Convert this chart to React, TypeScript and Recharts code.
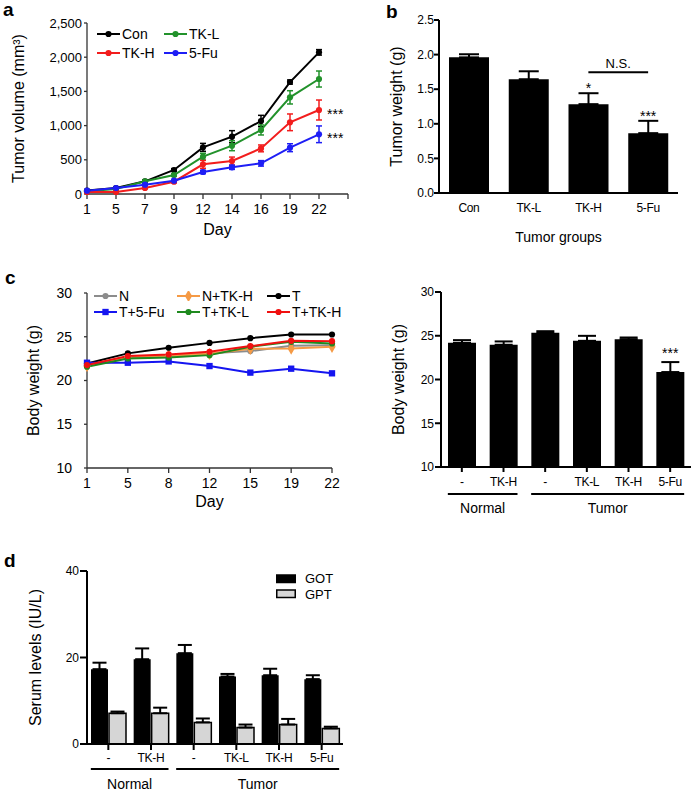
import React from "react";
import {
  LineChart,
  Line,
  BarChart,
  Bar,
  XAxis,
  YAxis,
  ErrorBar,
  Legend,
  ReferenceLine,
  ReferenceDot,
  Symbols,
} from "recharts";

const FONT = '"Liberation Sans", Arial, Helvetica, sans-serif';

// a — tumour volume over time
const volumeDays = ["1", "5", "7", "9", "12", "14", "16", "19", "22"];
const volCon = [50, 88, 185, 351, 682, 838, 1067, 1637, 2071];
const volConErr = [10, 12, 15, 20, 58, 88, 83, 30, 40];
const volTkL = [40, 73, 185, 278, 546, 706, 936, 1413, 1681];
const volTkLErr = [8, 10, 15, 20, 50, 73, 73, 97, 117];
const volTkH = [29, 29, 88, 180, 434, 482, 667, 1048, 1228];
const volTkHErr = [8, 10, 12, 18, 58, 58, 50, 122, 146];
const vol5Fu = [49, 88, 136, 195, 322, 390, 448, 677, 873];
const vol5FuErr = [8, 10, 12, 18, 25, 30, 40, 58, 122];
const volumeTicks = [0, 500, 1000, 1500, 2000, 2500];

// b — tumour weight at end point
const weightGroups = ["Con", "TK-L", "TK-H", "5-Fu"];
const tumorWeight = [1.96, 1.644, 1.284, 0.865];
const tumorWeightErr = [0.045, 0.115, 0.158, 0.178];
const tumorWeightSig = ["", "", "*", "***"];
const tumorWeightTicks = [0, 0.5, 1, 1.5, 2, 2.5];

// c — body weight over time
const bodyDays = ["1", "5", "8", "12", "15", "19", "22"];
const bwN = [21.65, 22.64, 22.79, 23.1, 23.36, 23.97, 24.04];
const bwNTkH = [21.65, 22.7, 22.83, 23.05, 23.62, 23.66, 23.85];
const bwT = [21.95, 23.1, 23.74, 24.3, 24.84, 25.26, 25.26];
const bwT5Fu = [22.03, 22.03, 22.18, 21.65, 20.9, 21.35, 20.82];
const bwTTkL = [21.57, 22.52, 22.64, 22.9, 23.85, 24.42, 24.23];
const bwTTkH = [21.76, 22.8, 22.98, 23.28, 23.93, 24.53, 24.5];
const bodyTicks = [10, 15, 20, 25, 30];

// c (right) — final body weight
const groupIds = ["n", "n-tkh", "t", "t-tkl", "t-tkh", "t-5fu"];
const groupLabels = ["-", "TK-H", "-", "TK-L", "TK-H", "5-Fu"];
const finalWeight = [24.19, 23.97, 25.33, 24.42, 24.61, 20.85];
const finalWeightErr = [0.31, 0.38, 0.19, 0.57, 0.19, 1.14];
const finalWeightSig = ["", "", "", "", "", "***"];

// d — serum GOT / GPT
const serumGOT = [17.3, 19.6, 21.0, 15.6, 15.9, 15.0];
const serumGOTErr = [1.5, 2.5, 1.9, 0.6, 1.5, 0.9];
const serumGPT = [7.1, 7.1, 5.0, 3.8, 4.5, 3.6];
const serumGPTErr = [0.4, 1.3, 0.9, 0.7, 1.3, 0.4];
const serumTicks = [0, 20, 40];

const treatmentGroups = [
  { name: "Normal", from: 0, to: 1 },
  { name: "Tumor", from: 2, to: 5 },
];

type Shape = "circle" | "square" | "diamond";
type SeriesDef = { key: string; name: string; color: string; shape: Shape };

const volumeSeries: SeriesDef[] = [
  { key: "con", name: "Con", color: "#000000", shape: "circle" },
  { key: "tkl", name: "TK-L", color: "#22922b", shape: "circle" },
  { key: "tkh", name: "TK-H", color: "#f21d1d", shape: "circle" },
  { key: "fu", name: "5-Fu", color: "#1e1ef5", shape: "circle" },
];

const bodySeries: SeriesDef[] = [
  { key: "n", name: "N", color: "#8c8c8c", shape: "circle" },
  { key: "ntkh", name: "N+TK-H", color: "#f59a45", shape: "diamond" },
  { key: "t", name: "T", color: "#000000", shape: "circle" },
  { key: "tfu", name: "T+5-Fu", color: "#1515f0", shape: "square" },
  { key: "ttkl", name: "T+TK-L", color: "#1f8a1f", shape: "circle" },
  { key: "ttkh", name: "T+TK-H", color: "#f01010", shape: "circle" },
];

const volumeRows = volumeDays.map((_, i) => ({
  i,
  con: volCon[i],
  conErr: volConErr[i],
  tkl: volTkL[i],
  tklErr: volTkLErr[i],
  tkh: volTkH[i],
  tkhErr: volTkHErr[i],
  fu: vol5Fu[i],
  fuErr: vol5FuErr[i],
}));

const weightRows = weightGroups.map((g, i) => ({
  group: g,
  w: tumorWeight[i],
  err: [0, tumorWeightErr[i]],
}));

const bodyRows = bodyDays.map((_, i) => ({
  i,
  n: bwN[i],
  ntkh: bwNTkH[i],
  t: bwT[i],
  tfu: bwT5Fu[i],
  ttkl: bwTTkL[i],
  ttkh: bwTTkH[i],
}));

const finalRows = groupIds.map((id, i) => ({
  id,
  w: finalWeight[i],
  err: [0, finalWeightErr[i]],
}));

const serumRows = groupIds.map((id, i) => ({
  id,
  got: serumGOT[i],
  gotErr: [0, serumGOTErr[i]],
  gpt: serumGPT[i],
  gptErr: [0, serumGPTErr[i]],
}));

const dotSize: Record<Shape, number> = { circle: 30, square: 40, diamond: 44 };

function markerDot(s: SeriesDef) {
  return (p: any) => (
    <Symbols
      key={`${s.key}-${p.index}`}
      cx={p.cx}
      cy={p.cy}
      type={s.shape}
      size={dotSize[s.shape]}
      fill={s.color}
    />
  );
}

function LineKeys({ items, cols, rowH, fontSize }: { items: SeriesDef[]; cols: number[]; rowH: number; fontSize: number }) {
  return (
    <div
      style={{
        display: "grid",
        gridTemplateColumns: cols.map((c) => `${c}px`).join(" "),
        fontFamily: FONT,
        fontSize,
        color: "#000",
      }}
    >
      {items.map((it) => (
        <div key={it.key} style={{ display: "flex", alignItems: "center", height: rowH, whiteSpace: "nowrap" }}>
          <svg width={23} height={10} style={{ marginRight: 2, flex: "none" }}>
            <line x1={0} x2={23} y1={5} y2={5} stroke={it.color} strokeWidth={2} />
            <Symbols cx={11.5} cy={5} type={it.shape} size={dotSize[it.shape]} fill={it.color} />
          </svg>
          <span>{it.name}</span>
        </div>
      ))}
    </div>
  );
}

function SerumKeys() {
  const items = [
    { name: "GOT", fill: "#000000" },
    { name: "GPT", fill: "#d6d6d6" },
  ];
  return (
    <div style={{ fontFamily: FONT, fontSize: 13, color: "#000" }}>
      {items.map((it) => (
        <div key={it.name} style={{ display: "flex", alignItems: "center", height: 15.5 }}>
          <svg width={20} height={10} style={{ marginRight: 9, flex: "none" }}>
            <rect x={0.75} y={1} width={18.5} height={7.5} fill={it.fill} stroke="#000" strokeWidth={1.5} />
          </svg>
          <span>{it.name}</span>
        </div>
      ))}
    </div>
  );
}

// tick with treatment bracket underneath (used by the two GraphPad bar panels)
function makeGroupTick(band: number, half: number, o: { tickSize: number; tickMargin: number; label: number; line: number; group: number }) {
  return function GroupTick(props: any) {
    const { x, y, payload } = props;
    const idx = payload.index;
    const axisY = y - o.tickSize - o.tickMargin;
    const g = treatmentGroups.find((gr) => gr.from === idx);
    const span = g ? (g.to - g.from) * band : 0;
    return (
      <g>
        <text x={x} y={axisY + o.label} textAnchor="middle" fontSize={12} letterSpacing={-0.3} fill="#000">
          {groupLabels[idx]}
        </text>
        {g && (
          <>
            <line x1={x - half} x2={x + span + half} y1={axisY + o.line} y2={axisY + o.line} stroke="#000" strokeWidth={2} />
            <text x={x + span / 2} y={axisY + o.group} textAnchor="middle" fontSize={14} fill="#000">
              {g.name}
            </text>
          </>
        )}
      </g>
    );
  };
}

const excelAxis = { stroke: "#333", strokeWidth: 1.3 };
const prismAxis = { stroke: "#000", strokeWidth: 2 };

function TumorVolume() {
  return (
    <LineChart width={360} height={245} data={volumeRows} margin={{ top: 23, right: 12, bottom: 21, left: 27 }}>
      <XAxis
        dataKey="i"
        type="number"
        domain={[0, 9]}
        ticks={[0, 1, 2, 3, 4, 5, 6, 7, 8, 9]}
        tickFormatter={(v: number) => volumeDays[v] ?? ""}
        height={30}
        axisLine={excelAxis}
        tickLine={excelAxis}
        tickSize={5}
        tickMargin={5}
        tick={{ fill: "#000", fontSize: 14 }}
        label={{ value: "Day", position: "bottom", offset: 0, fontSize: 16, fill: "#000" }}
      />
      <YAxis
        domain={[0, 2500]}
        ticks={volumeTicks}
        tickFormatter={(v: number) => v.toLocaleString("en-US")}
        width={60}
        axisLine={excelAxis}
        tickLine={excelAxis}
        tickSize={3}
        tickMargin={2}
        tick={{ fill: "#000", fontSize: 13 }}
        label={{
          value: "Tumor volume (mm³)",
          angle: -90,
          position: "insideLeft",
          offset: -9,
          fontSize: 16,
          fill: "#000",
          style: { textAnchor: "middle" },
        }}
      />
      {volumeSeries.map((s) => (
        <Line
          key={s.key}
          dataKey={s.key}
          name={s.name}
          stroke={s.color}
          strokeWidth={2}
          dot={markerDot(s)}
          isAnimationActive={false}
        >
          <ErrorBar dataKey={`${s.key}Err`} width={3} stroke={s.color} strokeWidth={1.5} />
        </Line>
      ))}
      <ReferenceDot x={8} y={volTkH[8]} r={0} label={{ value: "***", position: "right", offset: 8, fontSize: 14, fill: "#000", dy: 4 }} />
      <ReferenceDot x={8} y={vol5Fu[8]} r={0} label={{ value: "***", position: "right", offset: 8, fontSize: 14, fill: "#000", dy: 4 }} />
      <Legend
        layout="horizontal"
        verticalAlign="middle"
        align="center"
        wrapperStyle={{ position: "absolute", left: 97, top: 24, right: "auto", bottom: "auto", width: 140 }}
        content={() => <LineKeys items={volumeSeries} cols={[67, 67]} rowH={19} fontSize={14} />}
      />
    </LineChart>
  );
}

function TumorWeight() {
  return (
    <BarChart width={314} height={250} data={weightRows} margin={{ top: 20, right: 16, bottom: 27, left: 19 }}>
      <XAxis
        dataKey="group"
        height={30}
        axisLine={prismAxis}
        tickLine={false}
        tickSize={6}
        tickMargin={4}
        tick={{ fill: "#000", fontSize: 12, letterSpacing: -0.4 }}
        label={{ value: "Tumor groups", position: "bottom", offset: 9, fontSize: 14, fill: "#000" }}
      />
      <YAxis
        domain={[0, 2.5]}
        ticks={tumorWeightTicks}
        tickFormatter={(v: number) => v.toFixed(1)}
        width={40}
        axisLine={prismAxis}
        tickLine={prismAxis}
        tickSize={5}
        tickMargin={0}
        tick={{ fill: "#000", fontSize: 12 }}
        label={{
          value: "Tumor weight (g)",
          angle: -90,
          position: "insideLeft",
          offset: -3,
          fontSize: 16,
          fill: "#000",
          style: { textAnchor: "middle" },
        }}
      />
      <Bar dataKey="w" fill="#000" barSize={40} isAnimationActive={false}>
        <ErrorBar dataKey="err" width={10} stroke="#000" strokeWidth={2} />
      </Bar>
      <ReferenceLine
        segment={[
          { x: "TK-H", y: 1.745 },
          { x: "5-Fu", y: 1.745 },
        ]}
        stroke="#000"
        strokeWidth={2}
        label={{ value: "N.S.", position: "top", offset: 4, fontSize: 13, fill: "#000" }}
      />
      {weightGroups.map((g, i) =>
        tumorWeightSig[i] ? (
          <ReferenceDot
            key={g}
            x={g}
            y={tumorWeight[i] + tumorWeightErr[i]}
            r={0}
            label={{ value: tumorWeightSig[i], position: "top", offset: 0, fontSize: 14, fill: "#000" }}
          />
        ) : null
      )}
    </BarChart>
  );
}

function BodyWeight() {
  return (
    <LineChart width={360} height={250} data={bodyRows} margin={{ top: 31, right: 28, bottom: 14, left: 27 }}>
      <XAxis
        dataKey="i"
        type="number"
        domain={[0, 6]}
        ticks={[0, 1, 2, 3, 4, 5, 6]}
        tickFormatter={(v: number) => bodyDays[v] ?? ""}
        height={30}
        axisLine={excelAxis}
        tickLine={excelAxis}
        tickSize={5}
        tickMargin={5}
        tick={{ fill: "#000", fontSize: 14 }}
        label={{ value: "Day", position: "bottom", offset: -2, fontSize: 16, fill: "#000" }}
      />
      <YAxis
        domain={[10, 30]}
        ticks={bodyTicks}
        width={60}
        axisLine={excelAxis}
        tickLine={excelAxis}
        tickSize={3}
        tickMargin={12}
        tick={{ fill: "#000", fontSize: 14 }}
        label={{
          value: "Body weight (g)",
          angle: -90,
          position: "insideLeft",
          offset: 6,
          fontSize: 16,
          fill: "#000",
          style: { textAnchor: "middle" },
        }}
      />
      {bodySeries.map((s) => (
        <Line
          key={s.key}
          dataKey={s.key}
          name={s.name}
          stroke={s.color}
          strokeWidth={2}
          dot={markerDot(s)}
          isAnimationActive={false}
        />
      ))}
      <Legend
        layout="horizontal"
        verticalAlign="middle"
        align="center"
        wrapperStyle={{ position: "absolute", left: 94, top: 26, right: "auto", bottom: "auto", width: 260 }}
        content={() => <LineKeys items={bodySeries} cols={[83, 90, 80]} rowH={16} fontSize={14} />}
      />
    </LineChart>
  );
}

function FinalBodyWeight() {
  const tick = makeGroupTick(250 / 6, 14, { tickSize: 5, tickMargin: 2, label: 19, line: 27, group: 46 });
  return (
    <BarChart width={314} height={260} data={finalRows} margin={{ top: 30, right: 3, bottom: 5, left: 21 }}>
      <XAxis
        dataKey="id"
        height={50}
        axisLine={prismAxis}
        tickLine={prismAxis}
        tickSize={5}
        tickMargin={2}
        interval={0}
        tick={tick}
      />
      <YAxis
        domain={[10, 30]}
        ticks={bodyTicks}
        width={40}
        axisLine={prismAxis}
        tickLine={prismAxis}
        tickSize={6}
        tickMargin={1}
        tick={{ fill: "#000", fontSize: 12 }}
        label={{
          value: "Body weight (g)",
          angle: -90,
          position: "insideLeft",
          offset: -3,
          fontSize: 16,
          fill: "#000",
          style: { textAnchor: "middle" },
        }}
      />
      <Bar dataKey="w" fill="#000" barSize={28} isAnimationActive={false}>
        <ErrorBar dataKey="err" width={9} stroke="#000" strokeWidth={2} />
      </Bar>
      {groupIds.map((id, i) =>
        finalWeightSig[i] ? (
          <ReferenceDot
            key={id}
            x={id}
            y={finalWeight[i] + finalWeightErr[i]}
            r={0}
            label={{ value: finalWeightSig[i], position: "top", offset: 4, fontSize: 14, fill: "#000" }}
          />
        ) : null
      )}
    </BarChart>
  );
}

function SerumLevels() {
  const tick = makeGroupTick(256 / 6, 17.5, { tickSize: 6, tickMargin: 2, label: 18, line: 25, group: 45 });
  return (
    <BarChart width={360} height={254} data={serumRows} margin={{ top: 31, right: 17, bottom: 0, left: 27 }} barSize={17} barGap={1}>
      <XAxis
        dataKey="id"
        height={50}
        axisLine={prismAxis}
        tickLine={prismAxis}
        tickSize={6}
        tickMargin={2}
        interval={0}
        tick={tick}
      />
      <YAxis
        domain={[0, 40]}
        ticks={serumTicks}
        width={60}
        axisLine={prismAxis}
        tickLine={prismAxis}
        tickSize={7}
        tickMargin={1}
        tick={{ fill: "#000", fontSize: 12 }}
        label={{
          value: "Serum levels (IU/L)",
          angle: -90,
          position: "insideLeft",
          offset: 8,
          fontSize: 16,
          fill: "#000",
          style: { textAnchor: "middle" },
        }}
      />
      <Bar dataKey="got" name="GOT" fill="#000" isAnimationActive={false}>
        <ErrorBar dataKey="gotErr" width={7} stroke="#000" strokeWidth={2} />
      </Bar>
      <Bar dataKey="gpt" name="GPT" fill="#d6d6d6" stroke="#000" strokeWidth={1.5} isAnimationActive={false}>
        <ErrorBar dataKey="gptErr" width={7} stroke="#000" strokeWidth={2} />
      </Bar>
      <Legend
        layout="horizontal"
        verticalAlign="middle"
        align="center"
        wrapperStyle={{ position: "absolute", left: 276, top: 31, right: "auto", bottom: "auto", width: 70 }}
        content={() => <SerumKeys />}
      />
    </BarChart>
  );
}

const panelLetters = [
  { t: "a", x: 3, y: 16 },
  { t: "b", x: 386, y: 18 },
  { t: "c", x: 5, y: 284 },
  { t: "d", x: 4, y: 567 },
];

export default function App() {
  return (
    <div
      style={{
        position: "absolute",
        left: 0,
        top: 0,
        width: 694,
        height: 794,
        background: "#fff",
        fontFamily: FONT,
        overflow: "hidden",
      }}
    >
      <div style={{ position: "absolute", left: 0, top: 0 }}>
        <TumorVolume />
      </div>
      <div style={{ position: "absolute", left: 380, top: 0 }}>
        <TumorWeight />
      </div>
      <div style={{ position: "absolute", left: 0, top: 262 }}>
        <BodyWeight />
      </div>
      <div style={{ position: "absolute", left: 380, top: 262 }}>
        <FinalBodyWeight />
      </div>
      <div style={{ position: "absolute", left: 0, top: 540 }}>
        <SerumLevels />
      </div>
      <svg width={694} height={794} style={{ position: "absolute", left: 0, top: 0, pointerEvents: "none" }}>
        {panelLetters.map((l) => (
          <text key={l.t} x={l.x} y={l.y} fontSize={19} fontWeight="bold" fontFamily={FONT}>
            {l.t}
          </text>
        ))}
      </svg>
    </div>
  );
}
